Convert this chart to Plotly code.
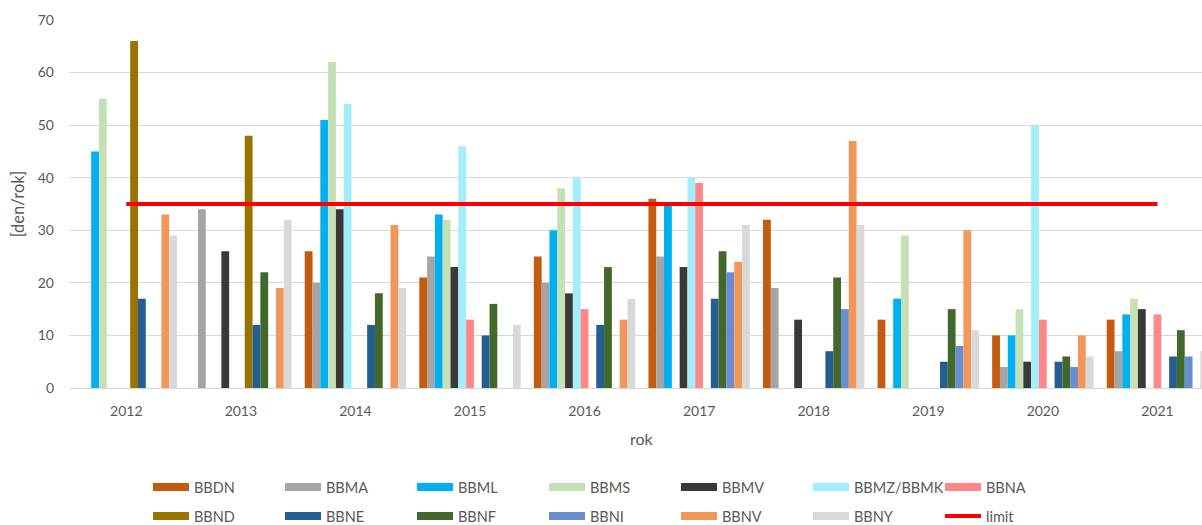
import plotly.graph_objects as go

years = [2012, 2013, 2014, 2015, 2016, 2017, 2018, 2019, 2020, 2021]
tick_labels = ["2012", "2013", "2014", "2015", "2016", "2017", "2018", "2019", "2020", "2021"]

BBDN = [None, None, 26, 21, 25, 36, 32, 13, 10, 13]
BBMA = [None, 34, 20, 25, 20, 25, 19, None, 4, 7]
BBML = [45, None, 51, 33, 30, 35, None, 17, 10, 14]
BBMS = [55, None, 62, 32, 38, None, None, 29, 15, 17]
BBMV = [None, 26, 34, 23, 18, 23, 13, None, 5, 15]
BBMZ = [None, None, 54, 46, 40, 40, None, None, 50, None]
BBNA = [None, None, None, 13, 15, 39, None, None, 13, 14]
BBND = [66, 48, None, None, None, None, None, None, None, None]
BBNE = [17, 12, 12, 10, 12, 17, 7, 5, 5, 6]
BBNF = [None, 22, 18, 16, 23, 26, 21, 15, 6, 11]
BBNI = [None, None, None, None, None, 22, 15, 8, 4, 6]
BBNV = [33, 19, 31, None, 13, 24, 47, 30, 10, None]
BBNY = [29, 32, 19, 12, 17, 31, 31, 11, 6, 7]
limit_years = [2012, 2021]
limit_values = [35, 35]

series = [
    ("BBDN", BBDN, "#C55A11"),
    ("BBMA", BBMA, "#A5A5A5"),
    ("BBML", BBML, "#00B0F0"),
    ("BBMS", BBMS, "#C5E0B4"),
    ("BBMV", BBMV, "#3B3838"),
    ("BBMZ/BBMK", BBMZ, "#A3EEFA"),
    ("BBNA", BBNA, "#FF8787"),
    ("BBND", BBND, "#997300"),
    ("BBNE", BBNE, "#255E91"),
    ("BBNF", BBNF, "#43682B"),
    ("BBNI", BBNI, "#698ED0"),
    ("BBNV", BBNV, "#F1975A"),
    ("BBNY", BBNY, "#D9D9D9"),
]

FONT = "Lato"
TXT = "#595959"

fig = go.Figure()
for name, vals, col in series:
    fig.add_trace(go.Bar(x=years, y=vals, name=name, marker=dict(color=col, line=dict(width=0)),
                         showlegend=False))

fig.add_trace(go.Scatter(x=limit_years, y=limit_values, mode="lines", name="limit",
                         line=dict(color="#FF0000", width=4), showlegend=False))

# legend entries
for i, (name, vals, col) in enumerate(series):
    fig.add_trace(go.Scatter(x=[None], y=[None], mode="lines", name=name,
                             line=dict(color=col, width=8),
                             legend="legend" if i < 7 else "legend2"))
fig.add_trace(go.Scatter(x=[None], y=[None], mode="lines", name="limit",
                         line=dict(color="#FF0000", width=4), legend="legend2"))

leg_common = dict(orientation="h", xref="container", yref="container", xanchor="left",
                  yanchor="middle", itemwidth=36, entrywidth=81,
                  font=dict(family=FONT, size=14.5, color=TXT), bgcolor="rgba(0,0,0,0)",
                  borderwidth=0, itemclick=False, itemdoubleclick=False)

fig.update_layout(
    width=1202, height=525,
    margin=dict(l=69, r=0, t=20, b=137),
    paper_bgcolor="white", plot_bgcolor="white",
    barmode="group", bargap=0.115, bargroupgap=0,
    font=dict(family=FONT, size=14, color=TXT),
    legend=dict(x=148 / 1202, y=1 - 487 / 525, **leg_common),
    legend2=dict(x=148 / 1202, y=1 - 516 / 525, **leg_common),
    xaxis=dict(range=[2011.5, 2021.389], tickvals=years, ticktext=tick_labels,
               showgrid=False, zeroline=False, showline=True, linecolor="#D9D9D9", linewidth=1,
               ticks="", ticklabelstandoff=10, tickfont=dict(family=FONT, size=14, color=TXT)),
    yaxis=dict(range=[0, 70], dtick=10, showgrid=True, gridcolor="#D9D9D9", gridwidth=1,
               zeroline=False, showline=False, ticks="", ticklabelstandoff=14,
               tickfont=dict(family=FONT, size=14, color=TXT),
               title=dict(text="[den/rok]", font=dict(family=FONT, size=16.5, color=TXT), standoff=8)),
    annotations=[dict(text="rok", x=2016.5, xref="x", y=-(438 - 388) / 368, yref="paper",
                      xanchor="center", yanchor="middle", showarrow=False,
                      font=dict(family=FONT, size=16, color=TXT))],
)

fig.write_html("out.html", config={"displayModeBar": False},
               post_script="document.body.style.margin='0';document.body.style.overflow='hidden';")
